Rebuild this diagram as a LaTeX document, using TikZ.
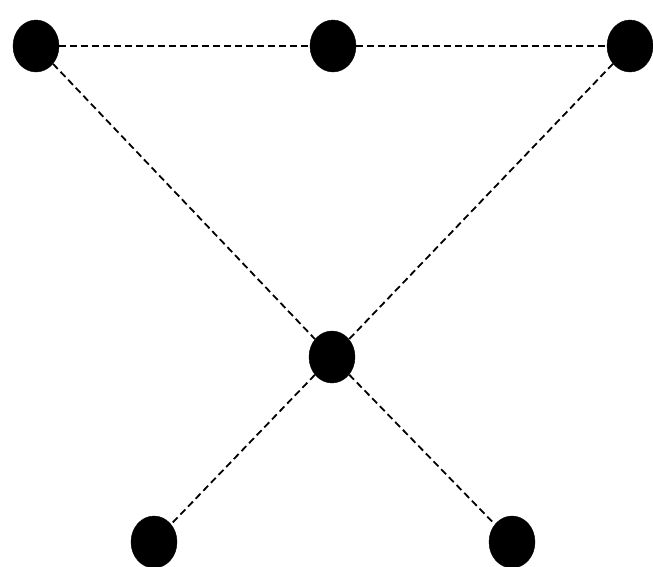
\documentclass[tikz,border=0pt]{standalone}
\usetikzlibrary{shapes.geometric}

\begin{document}
\begin{tikzpicture}[x=1pt,y=-1pt,every node/.style={draw,ellipse,fill=black,minimum width=46pt,minimum height=52pt,inner sep=0pt},edge/.style={line width=1.8pt,dash pattern=on 7pt off 4pt}]
      \useasboundingbox (0,0) rectangle (653,567);
      \node (tl) at (36,46) {};
      \node (tm) at (333,46) {};
      \node (tr) at (630,46) {};
      \node (c) at (332,357) {};
      \node (bl) at (154,542) {};
      \node (br) at (512,542) {};
      \draw[edge] (tl)--(tm);
      \draw[edge] (tm)--(tr);
      \draw[edge] (tl)--(c);
      \draw[edge] (tr)--(c);
      \draw[edge] (c)--(bl);
      \draw[edge] (c)--(br);
    \end{tikzpicture}
\end{document}
